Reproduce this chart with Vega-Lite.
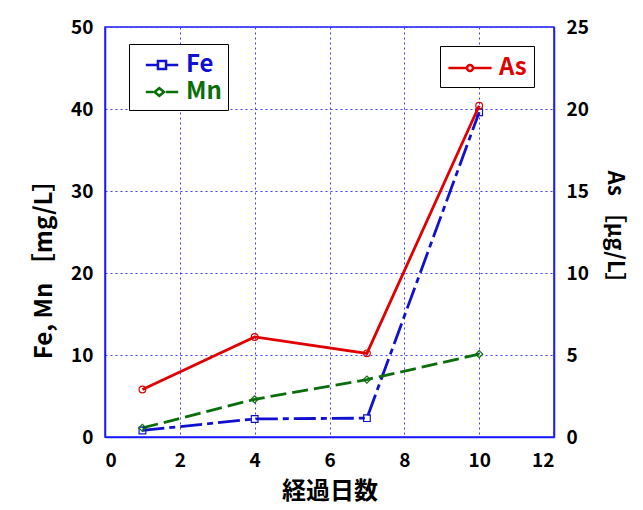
{
  "$schema": "https://vega.github.io/schema/vega-lite/v6.json",
  "width": 449,
  "height": 410,
  "autosize": {"type": "none"},
  "padding": {"left": 105, "top": 27, "right": 89, "bottom": 73},
  "background": "white",
  "config": {
    "font": "Noto Sans CJK JP",
    "view": {"stroke": "#1a1aff", "strokeWidth": 1.5},
    "axis": {
      "labelFont": "Noto Sans CJK JP",
      "labelFontWeight": "bold",
      "labelFontSize": 19,
      "labelColor": "#000000",
      "titleFont": "Noto Sans CJK JP",
      "titleFontWeight": "bold",
      "titleColor": "#000000",
      "domainColor": "#1a1aff",
      "domainWidth": 1.5,
      "ticks": false,
      "gridColor": "#3c3cff",
      "gridDash": [2, 3],
      "gridWidth": 1,
      "gridOpacity": 1
    },
    "legend": {
      "title": null,
      "strokeColor": "#000000",
      "fillColor": "#ffffff",
      "cornerRadius": 0,
      "symbolStrokeWidth": 2.5,
      "symbolSize": 729,
      "symbolFillColor": "transparent",
      "labelFont": "Noto Sans CJK JP",
      "labelFontWeight": "bold",
      "labelFontSize": 24,
      "rowPadding": 0
    }
  },
  "data": {
    "values": [
      {"day": 1, "series": "Fe", "value": 0.8},
      {"day": 4, "series": "Fe", "value": 2.2},
      {"day": 7, "series": "Fe", "value": 2.3},
      {"day": 10, "series": "Fe", "value": 39.6},
      {"day": 1, "series": "Mn", "value": 1.1},
      {"day": 4, "series": "Mn", "value": 4.6},
      {"day": 7, "series": "Mn", "value": 7.0},
      {"day": 10, "series": "Mn", "value": 10.1},
      {"day": 1, "series": "As", "value": 2.9},
      {"day": 4, "series": "As", "value": 6.1},
      {"day": 7, "series": "As", "value": 5.1},
      {"day": 10, "series": "As", "value": 20.2}
    ]
  },
  "layer": [
    {
      "transform": [{"filter": "datum.series !== 'As'"}],
      "encoding": {
        "x": {
          "field": "day", "type": "quantitative",
          "scale": {"domain": [0, 12], "nice": false},
          "axis": {"values": [0, 2, 4, 6, 8, 10, 12], "title": "経過日数", "titleFontSize": 24, "labelPadding": 14, "titlePadding": 9}
        },
        "y": {
          "field": "value", "type": "quantitative",
          "scale": {"domain": [0, 50], "nice": false},
          "axis": {"values": [0, 10, 20, 30, 40, 50], "title": "Fe, Mn  ［mg/L］", "titleFontSize": 24, "labelPadding": 12, "titlePadding": 14, "titleY": 236}
        }
      },
      "layer": [
        {
          "mark": {"type": "point", "filled": false, "opacity": 0},
          "encoding": {
            "color": {
              "field": "series", "type": "nominal",
              "scale": {"domain": ["Fe", "Mn"], "range": ["#1010d0", "#0a6e0a"]},
              "legend": {
                "orient": "none", "legendX": 24, "legendY": 17, "padding": 6,
                "symbolOffset": 12, "labelOffset": 9,
                "labelColor": {"expr": "datum.value === 'Fe' ? '#1010d0' : '#0a6e0a'"}
              }
            },
            "shape": {
              "field": "series", "type": "nominal",
              "scale": {"domain": ["Fe", "Mn"], "range": [
                "M-1.2,0H-0.3M0.3,0H1.2M-0.3,-0.3H0.3V0.3H-0.3Z",
                "M-1.2,0H-0.65M-0.55,0L-0.2,-0.28L0.15,0L-0.2,0.28ZM0.3,0H1.2"
              ]},
              "legend": {
                "orient": "none", "legendX": 24, "legendY": 17, "padding": 6,
                "symbolOffset": 12, "labelOffset": 9,
                "labelColor": {"expr": "datum.value === 'Fe' ? '#1010d0' : '#0a6e0a'"}
              }
            }
          }
        },
        {
          "transform": [{"filter": "datum.series === 'Fe'"}],
          "mark": {"type": "line", "strokeWidth": 2.8, "strokeDash": [22, 5, 6, 5]},
          "encoding": {"color": {"field": "series", "type": "nominal", "legend": null}}
        },
        {
          "transform": [{"filter": "datum.series === 'Mn'"}],
          "mark": {"type": "line", "strokeWidth": 2.8, "strokeDash": [16, 6]},
          "encoding": {"color": {"field": "series", "type": "nominal", "legend": null}}
        },
        {
          "transform": [{"filter": "datum.series === 'Fe'"}],
          "mark": {"type": "point", "shape": "square", "filled": false, "size": 45, "strokeWidth": 1.2, "opacity": 1},
          "encoding": {"color": {"field": "series", "type": "nominal", "legend": null}}
        },
        {
          "transform": [{"filter": "datum.series === 'Mn'"}],
          "mark": {"type": "point", "shape": "diamond", "filled": false, "size": 50, "strokeWidth": 1.2, "opacity": 1},
          "encoding": {"color": {"field": "series", "type": "nominal", "legend": null}}
        }
      ]
    },
    {
      "transform": [{"filter": "datum.series === 'As'"}],
      "encoding": {
        "x": {"field": "day", "type": "quantitative", "scale": {"domain": [0, 12], "nice": false}},
        "y": {
          "field": "value", "type": "quantitative",
          "scale": {"domain": [0, 25], "nice": false},
          "axis": {"orient": "right", "values": [0, 5, 10, 15, 20, 25], "grid": false, "title": "As ［μg/L］", "titleFontSize": 22, "labelPadding": 12, "titlePadding": 14}
        }
      },
      "layer": [
        {
          "mark": {"type": "point", "filled": false, "opacity": 0},
          "encoding": {
            "color": {
              "field": "series", "type": "nominal",
              "scale": {"domain": ["As"], "range": ["#e00000"]},
              "legend": {
                "orient": "none", "legendX": 335, "legendY": 19, "padding": 7,
                "symbolOffset": 8, "labelOffset": 14, "labelColor": "#e00000"
              }
            },
            "shape": {
              "field": "series", "type": "nominal",
              "scale": {"domain": ["As"], "range": ["M-1.6,0H-0.22M0.22,0H1.6M-0.22,0A0.22,0.22,0,1,0,0.22,0A0.22,0.22,0,1,0,-0.22,0"]},
              "legend": {
                "orient": "none", "legendX": 335, "legendY": 19, "padding": 7,
                "symbolOffset": 8, "labelOffset": 14, "labelColor": "#e00000"
              }
            }
          }
        },
        {
          "mark": {"type": "line", "strokeWidth": 2.8},
          "encoding": {"color": {"field": "series", "type": "nominal", "legend": null}}
        },
        {
          "mark": {"type": "point", "shape": "circle", "filled": false, "size": 45, "strokeWidth": 1.2, "opacity": 1},
          "encoding": {"color": {"field": "series", "type": "nominal", "legend": null}}
        }
      ]
    }
  ],
  "resolve": {"scale": {"y": "independent", "color": "independent", "shape": "independent"}}
}
